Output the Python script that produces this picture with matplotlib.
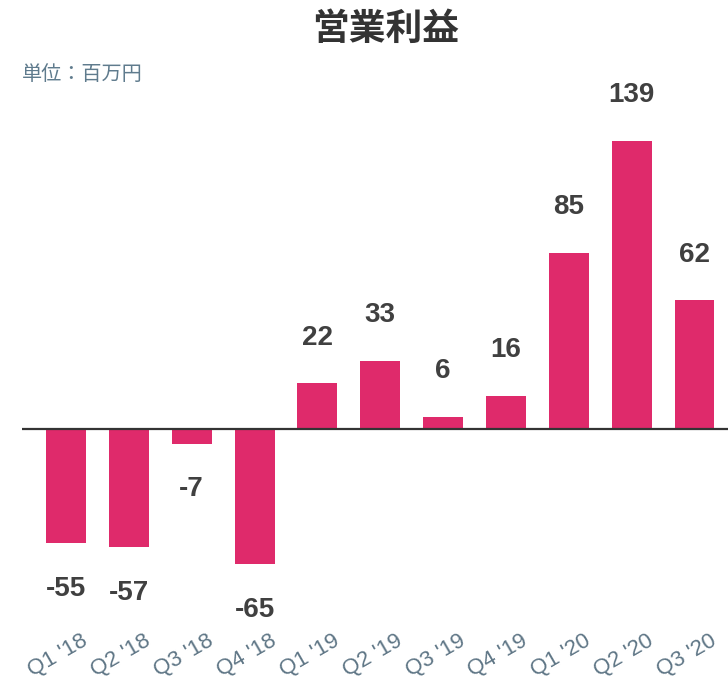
import matplotlib
matplotlib.use("Agg")
import matplotlib.pyplot as plt
from matplotlib.transforms import ScaledTranslation

categories = ["Q1 '18", "Q2 '18", "Q3 '18", "Q4 '18", "Q1 '19", "Q2 '19",
              "Q3 '19", "Q4 '19", "Q1 '20", "Q2 '20", "Q3 '20"]
values = [-55, -57, -7, -65, 22, 33, 6, 16, 85, 139, 62]
title = "営業利益"
subtitle = "単位：百万円"

BAR = "#df2a6b"
W, H, DPI = 728, 685, 100
fig = plt.figure(figsize=(W / DPI, H / DPI), dpi=DPI)
fig.patch.set_facecolor("white")

# axes in pixel layout
left_px, right_px, top_px, bot_px = 22, 728, 100, 625
ax = fig.add_axes([left_px / W, (H - bot_px) / H, (right_px - left_px) / W, (bot_px - top_px) / H])
ax.set_facecolor("none")

x = list(range(len(categories)))
ax.bar(x, values, width=0.636, color=BAR, zorder=2)
ax.axhline(0, color="#333333", lw=1.6, zorder=3)

ppu = 2.073
ax.set_ylim(-(bot_px - 429) / ppu, (429 - top_px) / ppu)
ax.set_xlim(-0.70, 10.533)

for xi, v in zip(x, values):
    off = 33 if v >= 0 else -33
    ax.annotate(f"{v}", (xi, v), xytext=(0, off), textcoords="offset points",
                ha="center", va="center", fontsize=20, fontweight="bold",
                color="#404040", family=["Liberation Sans", "DejaVu Sans"])

for s in ax.spines.values():
    s.set_visible(False)
ax.set_yticks([])
ax.set_xticks(x)
ax.set_xticklabels(categories, rotation=30, ha="right", va="top",
                   rotation_mode="anchor", fontsize=16, color="#5f7686",
                   family=["Liberation Sans", "DejaVu Sans"])
ax.tick_params(axis="x", length=0, pad=4)
shift = ScaledTranslation(15 / DPI, 0, fig.dpi_scale_trans)
for lab in ax.get_xticklabels():
    lab.set_transform(lab.get_transform() + shift)

fig.text(386 / W, 1 - 29 / H, title, ha="center", va="center", fontsize=26.5,
         fontweight="bold", color="#333333",
         family=["Noto Sans CJK JP", "DejaVu Sans"])
fig.text(22 / W, 1 - 75 / H, subtitle, ha="left", va="center", fontsize=14.5,
         color="#5f7b8d", family=["Noto Sans CJK JP", "DejaVu Sans"])

fig.savefig("out.png", dpi=DPI, facecolor="white")
